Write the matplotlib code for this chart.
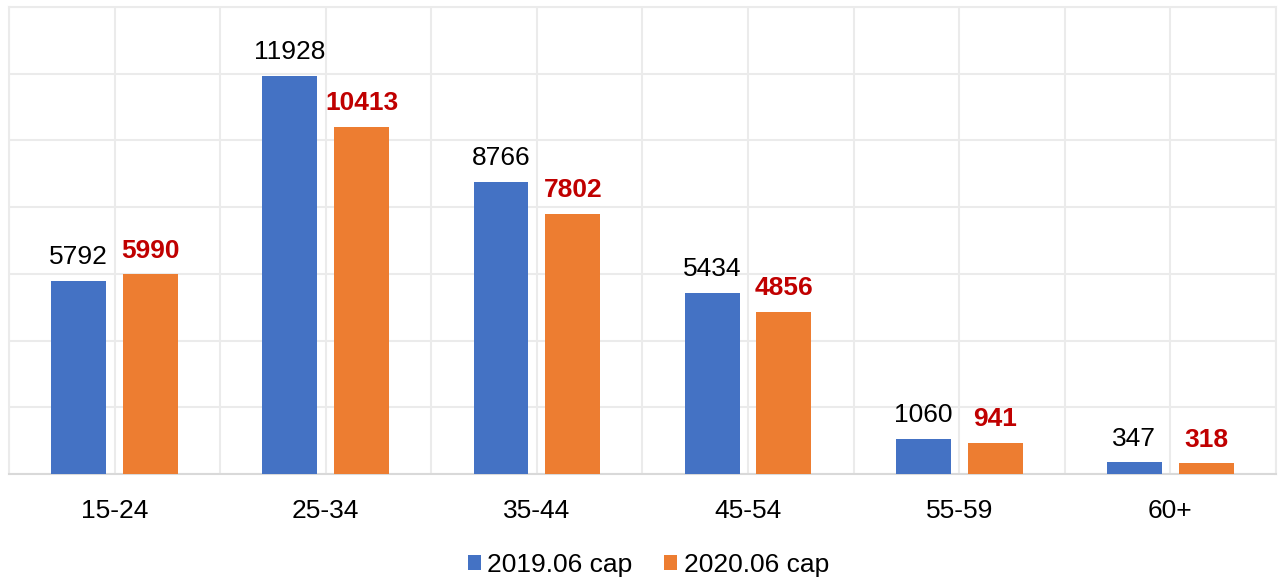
import matplotlib.pyplot as plt
import numpy as np

plt.rcParams['font.family'] = ['Liberation Sans', 'DejaVu Sans']

categories = ['15-24', '25-34', '35-44', '45-54', '55-59', '60+']
cap_2019 = [5792, 11928, 8766, 5434, 1060, 347]
cap_2020 = [5990, 10413, 7802, 4856, 941, 318]

blue = '#4472C4'
orange = '#ED7D31'
red = '#C00000'
grid = '#EBEBEB'

fig = plt.figure(figsize=(12.79, 5.79), dpi=100)
ax = fig.add_axes([0.007, 0.1813, 0.9906, 0.8066])

x = np.arange(len(categories))
w = 0.26
off = 0.17
b1 = ax.bar(x - off, cap_2019, w, color=blue, label='2019.06 cap', zorder=3)
b2 = ax.bar(x + off, cap_2020, w, color=orange, label='2020.06 cap', zorder=3)

for rect, v in zip(b1, cap_2019):
    ax.annotate(str(v), (rect.get_x() + rect.get_width() / 2, v),
                xytext=(0, 12), textcoords='offset points',
                ha='center', va='baseline', fontsize=19, color='black')
for rect, v in zip(b2, cap_2020):
    ax.annotate(str(v), (rect.get_x() + rect.get_width() / 2, v),
                xytext=(0, 12), textcoords='offset points',
                ha='center', va='baseline', fontsize=19, color=red,
                fontweight='bold')

ax.set_xlim(-0.5, len(categories) - 0.5)
ax.set_ylim(0, 14000)
ax.set_yticks(np.arange(0, 14001, 2000))
ax.set_yticklabels([])
ax.set_xticks(x)
ax.set_xticklabels(categories, fontsize=19)
ax.set_xticks(np.arange(-0.5, len(categories), 0.5), minor=True)
ax.tick_params(axis='both', which='both', length=0)
ax.tick_params(axis='x', pad=18)
ax.grid(True, which='both', axis='x', color=grid, linewidth=1.5, zorder=0)
ax.grid(True, which='major', axis='y', color=grid, linewidth=1.5, zorder=0)

for side in ['left', 'right', 'top']:
    ax.spines[side].set_color(grid)
    ax.spines[side].set_linewidth(1.5)
ax.spines['bottom'].set_color('#D9D9D9')
ax.spines['bottom'].set_linewidth(1.5)

fig.legend(loc='center', bbox_to_anchor=(0.507, 0.024), ncol=2, frameon=False,
           fontsize=19, handlelength=0.5, handleheight=0.5,
           handletextpad=0.25, columnspacing=1.2)

fig.savefig('out.png', dpi=100)
